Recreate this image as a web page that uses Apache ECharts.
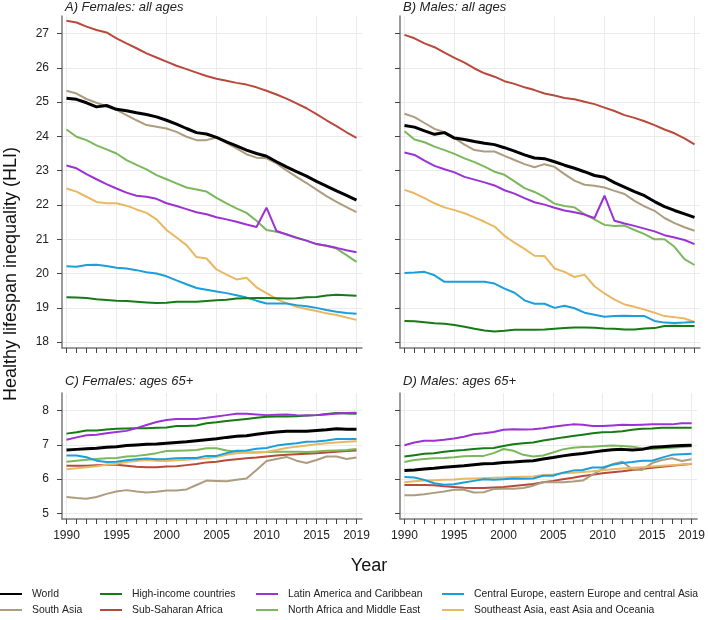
<!DOCTYPE html>
<html>
<head>
<meta charset="utf-8">
<script src="https://cdn.jsdelivr.net/npm/echarts@6/dist/echarts.min.js"></script>
<style>
html,body{margin:0;padding:0;background:#fff;}
#chart{width:708px;height:620px;}
</style>
</head>
<body>
<div id="chart"></div>
<script>
// ---------- DATA ----------
var years = [1990,1991,1992,1993,1994,1995,1996,1997,1998,1999,2000,2001,2002,2003,2004,2005,2006,2007,2008,2009,2010,2011,2012,2013,2014,2015,2016,2017,2018,2019];
var yearLabels = [1990,1995,2000,2005,2010,2015,2019];
var yearGrid = [1990,1995,2000,2005,2010,2015,2019];
var ticksAll = [18,19,20,21,22,23,24,25,26,27];
var ticks65 = [5,6,7,8];

var regions = ['World','High-income countries','Latin America and Caribbean','Central Europe, eastern Europe and central Asia','South Asia','Sub-Saharan Africa','North Africa and Middle East','Southeast Asia, east Asia and Oceania'];
var panelTitles = ['A) Females: all ages','B) Males: all ages','C) Females: ages 65+','D) Males: ages 65+'];

// A) Females: all ages
var femAll_world = [25.11,25.08,24.98,24.86,24.9,24.79,24.75,24.69,24.64,24.57,24.47,24.36,24.23,24.11,24.07,23.97,23.84,23.72,23.6,23.5,23.42,23.26,23.11,22.97,22.84,22.69,22.55,22.41,22.28,22.14];
var femAll_high = [19.31,19.3,19.29,19.25,19.23,19.21,19.2,19.18,19.16,19.14,19.15,19.18,19.18,19.18,19.2,19.22,19.24,19.27,19.28,19.29,19.29,19.28,19.27,19.28,19.31,19.32,19.36,19.38,19.37,19.35];
var femAll_latin = [23.15,23.07,22.9,22.75,22.61,22.48,22.36,22.27,22.24,22.18,22.05,21.97,21.88,21.79,21.73,21.64,21.58,21.51,21.43,21.36,21.92,21.24,21.14,21.04,20.96,20.86,20.81,20.75,20.68,20.62];
var femAll_ceu = [20.21,20.2,20.25,20.26,20.22,20.17,20.15,20.1,20.04,20.0,19.92,19.8,19.69,19.58,19.53,19.48,19.43,19.37,19.3,19.21,19.13,19.13,19.13,19.08,19.05,19.0,18.94,18.89,18.85,18.83];
var femAll_sasia = [25.33,25.25,25.09,24.98,24.88,24.77,24.62,24.47,24.33,24.28,24.23,24.13,23.99,23.89,23.89,23.97,23.81,23.65,23.48,23.38,23.36,23.21,23.01,22.82,22.64,22.45,22.26,22.09,21.94,21.79];
var femAll_ssa = [27.37,27.32,27.2,27.1,27.03,26.86,26.71,26.57,26.42,26.3,26.18,26.06,25.96,25.86,25.76,25.68,25.62,25.56,25.51,25.43,25.33,25.22,25.1,24.96,24.82,24.65,24.47,24.3,24.12,23.96];
var femAll_nafme = [24.2,23.99,23.89,23.74,23.62,23.5,23.31,23.17,23.04,22.87,22.75,22.63,22.51,22.45,22.39,22.21,22.05,21.9,21.77,21.54,21.27,21.22,21.15,21.05,20.96,20.86,20.81,20.73,20.54,20.34];
var femAll_sea = [22.48,22.39,22.24,22.09,22.05,22.05,21.98,21.87,21.77,21.58,21.27,21.05,20.83,20.48,20.44,20.12,19.97,19.83,19.88,19.6,19.43,19.26,19.14,19.03,18.97,18.91,18.84,18.79,18.72,18.65];

// B) Males: all ages
var maleAll_world = [24.32,24.27,24.16,24.06,24.11,23.95,23.91,23.85,23.8,23.76,23.67,23.57,23.46,23.37,23.35,23.26,23.16,23.07,22.97,22.86,22.81,22.65,22.52,22.39,22.27,22.1,21.95,21.84,21.74,21.64];
var maleAll_high = [18.62,18.61,18.58,18.55,18.54,18.5,18.45,18.39,18.34,18.31,18.33,18.36,18.36,18.36,18.37,18.39,18.41,18.43,18.43,18.42,18.4,18.39,18.37,18.37,18.4,18.41,18.47,18.48,18.47,18.47];
var maleAll_latin = [23.53,23.46,23.29,23.14,23.04,22.95,22.82,22.74,22.66,22.57,22.43,22.33,22.2,22.08,22.01,21.92,21.84,21.79,21.72,21.62,22.27,21.54,21.46,21.39,21.31,21.23,21.12,21.05,20.98,20.86];
var maleAll_ceu = [20.02,20.03,20.05,19.95,19.76,19.76,19.76,19.76,19.76,19.71,19.56,19.44,19.22,19.12,19.12,19.0,19.06,18.99,18.86,18.8,18.74,18.76,18.77,18.76,18.76,18.62,18.57,18.56,18.57,18.59];
var maleAll_sasia = [24.66,24.56,24.39,24.22,24.12,23.95,23.76,23.6,23.56,23.56,23.43,23.31,23.19,23.1,23.19,23.11,22.9,22.71,22.59,22.56,22.51,22.41,22.32,22.12,21.96,21.83,21.62,21.47,21.35,21.25];
var maleAll_ssa = [26.96,26.86,26.71,26.6,26.44,26.29,26.15,25.98,25.84,25.74,25.61,25.53,25.43,25.35,25.25,25.19,25.12,25.08,25.01,24.94,24.84,24.74,24.62,24.54,24.44,24.33,24.2,24.09,23.94,23.77];
var maleAll_nafme = [24.15,23.91,23.83,23.7,23.6,23.49,23.36,23.25,23.12,22.97,22.88,22.69,22.49,22.38,22.23,22.04,21.97,21.93,21.73,21.58,21.42,21.39,21.4,21.27,21.15,21.0,21.0,20.78,20.42,20.25];
var maleAll_sea = [22.44,22.34,22.2,22.05,21.93,21.85,21.76,21.64,21.51,21.37,21.1,20.9,20.72,20.52,20.51,20.15,20.05,19.9,19.97,19.63,19.42,19.24,19.1,19.03,18.95,18.86,18.76,18.73,18.69,18.59];

// C) Females: ages 65+
var fem65_world = [6.85,6.87,6.89,6.9,6.93,6.95,6.98,7.0,7.02,7.03,7.05,7.07,7.09,7.12,7.15,7.18,7.22,7.25,7.27,7.31,7.35,7.38,7.4,7.4,7.4,7.42,7.44,7.47,7.46,7.46];
var fem65_high = [7.33,7.37,7.42,7.42,7.45,7.47,7.48,7.49,7.49,7.5,7.51,7.55,7.55,7.57,7.63,7.66,7.7,7.73,7.76,7.79,7.82,7.83,7.83,7.84,7.86,7.87,7.9,7.93,7.92,7.91];
var fem65_latin = [7.15,7.22,7.28,7.3,7.34,7.38,7.41,7.49,7.58,7.67,7.73,7.76,7.76,7.76,7.79,7.83,7.87,7.91,7.91,7.89,7.87,7.88,7.89,7.87,7.86,7.87,7.89,7.92,7.93,7.94];
var fem65_ceu = [6.69,6.69,6.64,6.54,6.5,6.51,6.55,6.58,6.6,6.58,6.59,6.61,6.62,6.62,6.68,6.68,6.76,6.83,6.84,6.89,6.91,6.98,7.02,7.05,7.09,7.1,7.13,7.17,7.17,7.17];
var fem65_sasia = [5.48,5.45,5.43,5.48,5.57,5.64,5.68,5.64,5.61,5.63,5.67,5.67,5.7,5.83,5.96,5.95,5.94,5.98,6.02,6.27,6.53,6.59,6.65,6.54,6.47,6.56,6.66,6.66,6.59,6.63];
var fem65_ssa = [6.39,6.39,6.39,6.41,6.42,6.42,6.39,6.36,6.35,6.35,6.37,6.38,6.41,6.44,6.49,6.51,6.55,6.58,6.61,6.63,6.66,6.69,6.71,6.73,6.74,6.76,6.78,6.8,6.82,6.84];
var fem65_nafme = [6.51,6.54,6.57,6.59,6.61,6.62,6.66,6.68,6.71,6.76,6.82,6.83,6.84,6.85,6.9,6.9,6.84,6.8,6.78,6.78,6.79,6.8,6.8,6.8,6.79,6.81,6.83,6.84,6.85,6.88];
var fem65_sea = [6.29,6.32,6.35,6.38,6.42,6.45,6.5,6.53,6.56,6.54,6.53,6.55,6.57,6.59,6.61,6.65,6.71,6.76,6.78,6.78,6.8,6.85,6.91,6.95,6.98,7.02,7.05,7.07,7.09,7.11];

// D) Males: ages 65+
var male65_world = [6.25,6.27,6.3,6.32,6.35,6.37,6.39,6.42,6.45,6.46,6.49,6.5,6.52,6.54,6.59,6.63,6.68,6.72,6.75,6.79,6.83,6.86,6.87,6.85,6.87,6.93,6.95,6.97,6.98,6.99];
var male65_high = [6.66,6.7,6.74,6.76,6.8,6.83,6.85,6.88,6.9,6.91,6.97,7.02,7.05,7.07,7.13,7.17,7.22,7.26,7.3,7.34,7.37,7.38,7.4,7.44,7.47,7.48,7.5,7.5,7.5,7.5];
var male65_latin = [6.99,7.07,7.12,7.12,7.15,7.19,7.24,7.31,7.34,7.38,7.44,7.46,7.45,7.46,7.49,7.53,7.57,7.6,7.59,7.55,7.55,7.57,7.59,7.58,7.59,7.6,7.6,7.6,7.63,7.63];
var male65_ceu = [6.06,6.05,5.98,5.88,5.84,5.85,5.9,5.95,6.0,5.98,6.0,6.02,6.01,6.02,6.1,6.1,6.19,6.25,6.27,6.34,6.34,6.42,6.47,6.5,6.54,6.54,6.63,6.71,6.73,6.74];
var male65_sasia = [5.53,5.53,5.56,5.6,5.64,5.69,5.69,5.61,5.62,5.71,5.72,5.72,5.74,5.81,5.91,5.91,5.91,5.93,5.96,6.13,6.3,6.44,6.51,6.29,6.27,6.47,6.56,6.61,6.53,6.58];
var male65_ssa = [5.83,5.83,5.83,5.82,5.79,5.77,5.75,5.74,5.74,5.76,5.77,5.8,5.83,5.86,5.91,5.95,6.0,6.04,6.09,6.13,6.17,6.2,6.23,6.27,6.3,6.33,6.36,6.39,6.42,6.44];
var male65_nafme = [6.5,6.56,6.59,6.61,6.62,6.64,6.67,6.68,6.68,6.76,6.88,6.83,6.71,6.66,6.69,6.78,6.87,6.92,6.94,6.95,6.97,6.98,6.97,6.95,6.9,6.88,6.9,6.92,6.94,6.96];
var male65_sea = [5.91,5.94,5.96,5.97,5.98,5.99,6.01,6.02,6.03,6.04,6.05,6.06,6.07,6.08,6.12,6.14,6.17,6.19,6.21,6.23,6.26,6.29,6.31,6.33,6.35,6.37,6.39,6.41,6.43,6.45];

// ---------- STYLE ----------
var colors = ['#000000','#167a16','#9a32d4','#1a9fda','#ad9d7e','#b84a3c','#7bb85c','#e9b862'];
var widths = [3,2,2,2,2,2,2,2];
var FONT = "'Liberation Sans', Arial, sans-serif";
var AXC = '#7a7a7a';
var GRIDC = '#ebebeb';

var panels = [
  [femAll_world,femAll_high,femAll_latin,femAll_ceu,femAll_sasia,femAll_ssa,femAll_nafme,femAll_sea],
  [maleAll_world,maleAll_high,maleAll_latin,maleAll_ceu,maleAll_sasia,maleAll_ssa,maleAll_nafme,maleAll_sea],
  [fem65_world,fem65_high,fem65_latin,fem65_ceu,fem65_sasia,fem65_ssa,fem65_nafme,fem65_sea],
  [male65_world,male65_high,male65_latin,male65_ceu,male65_sasia,male65_ssa,male65_nafme,male65_sea]
];

var grids = [
  {left:62, top:16, width:300, height:332},
  {left:400, top:16, width:300, height:332},
  {left:62, top:393, width:300, height:126},
  {left:400, top:393, width:300, height:126}
];
var yRange = [[17.83,27.51],[17.83,27.51],[4.837,8.516],[4.837,8.516]];

function plain(v){ return String(v); }

var xAxes = [], yAxes = [], series = [];
for (var g = 0; g < 4; g++) {
  xAxes.push({
    type:'value', gridIndex:g, min:1989.55, max:2019.55,
    axisLine:{show:true, onZero:false, lineStyle:{color:AXC, width:1.5}},
    axisTick:{show:true, length:5, customValues:years, lineStyle:{color:'#444', width:1}},
    axisLabel:{show:g>=2, customValues:yearLabels, formatter:plain, fontSize:12, color:'#222', fontFamily:FONT, margin:11},
    splitLine:{show:false}
  });
  xAxes.push({
    type:'value', gridIndex:g, min:1989.55, max:2019.55, position:'bottom',
    axisLine:{show:false}, axisTick:{show:false, customValues:yearGrid},
    axisLabel:{show:false},
    splitLine:{show:true, lineStyle:{color:GRIDC, width:1}}
  });
  var yt = g < 2 ? ticksAll : ticks65;
  yAxes.push({
    type:'value', gridIndex:g, min:yRange[g][0], max:yRange[g][1],
    axisLine:{show:true, onZero:false, lineStyle:{color:AXC, width:1.5}},
    axisTick:{show:true, length:5, customValues:yt, lineStyle:{color:'#444', width:1}},
    axisLabel:{show:g%2===0, customValues:yt, formatter:plain, fontSize:12, color:'#222', fontFamily:FONT, margin:13},
    splitLine:{show:true, lineStyle:{color:GRIDC, width:1}}
  });
  var order = [5,4,6,7,3,1,2,0];
  for (var k = 0; k < order.length; k++) {
    var r = order[k];
    var vals = panels[g][r];
    var d = [];
    for (var i = 0; i < years.length; i++) d.push([years[i], vals[i]]);
    series.push({
      type:'line', name:regions[r], xAxisIndex:g*2, yAxisIndex:g,
      data:d, symbol:'none', showSymbol:false, smooth:false, z: r===0 ? 5 : 3,
      color:colors[r],
      lineStyle:{color:colors[r], width:widths[r]},
      emphasis:{disabled:true}
    });
  }
}

var legendCols = [[0,4],[1,5],[2,6],[3,7]];
var legendLeft = [0,100,256,442];
var legends = legendCols.map(function(c, j){
  return {
    orient:'vertical', left:legendLeft[j], top:587, padding:0, itemGap:2,
    itemWidth:22, itemHeight:2, icon:'rect',
    data:[regions[c[0]], regions[c[1]]],
    textStyle:{fontSize:10.4, lineHeight:14, height:14, color:'#222', fontFamily:FONT, padding:[0,0,0,5]},
    selectedMode:false
  };
});

var titlePos = [[65,7],[403,7],[65,381],[403,381]];
var graphics = panelTitles.map(function(t, j){
  return {type:'text', x:titlePos[j][0], y:titlePos[j][1],
    style:{text:t, font:'italic 13px ' + FONT, fill:'#222', align:'left', verticalAlign:'middle'}};
});
graphics.push({type:'text', x:11, y:274, rotation:Math.PI/2,
  style:{text:'Healthy lifespan inequality (HLI)', font:'18px ' + FONT, fill:'#111', align:'center', verticalAlign:'middle'}});
graphics.push({type:'text', x:369, y:566,
  style:{text:'Year', font:'18px ' + FONT, fill:'#111', align:'center', verticalAlign:'middle'}});

var chart = echarts.init(document.getElementById('chart'), null, {renderer:'canvas'});
chart.setOption({
  animation:false,
  backgroundColor:'#fff',
  grid:grids,
  xAxis:xAxes,
  yAxis:yAxes,
  legend:legends,
  graphic:graphics,
  series:series
});
</script>
</body>
</html>
